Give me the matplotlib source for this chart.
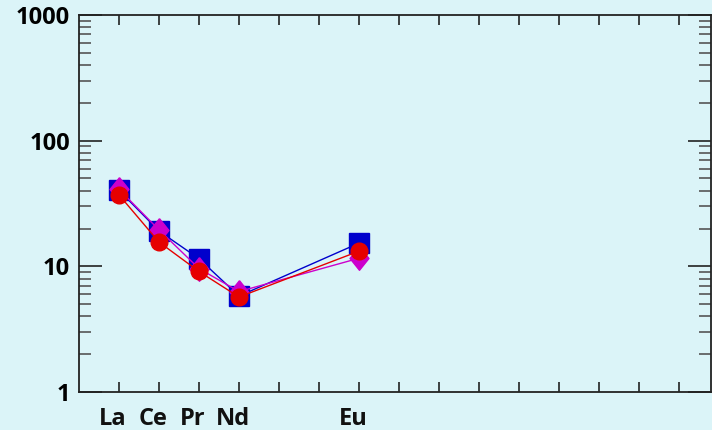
import numpy as np
import matplotlib
matplotlib.use("Agg")
from matplotlib import pyplot as plt
from matplotlib import transforms

# REE order (chondrite normalised spider diagram)
elements = ["La", "Ce", "Pr", "Nd", "Pm", "Sm", "Eu", "Gd", "Tb", "Dy", "Ho", "Er", "Tm", "Yb", "Lu"]
labelled = ["La", "Ce", "Pr", "Nd", "Eu"]

# sample values, same element order as labelled
blue_vals = [40.2, 19.1, 11.5, 5.8, 15.3]
magenta_vals = [41.0, 19.5, 9.6, 6.3, 11.6]
red_vals = [37.0, 15.6, 9.1, 5.7, 13.2]

bg = "#DBF4F8"
font = "Open Sans"

fig = plt.figure(figsize=(7.12, 4.30), dpi=100, facecolor=bg)
ax = fig.add_axes([79 / 712, 38 / 430, 632 / 712, 377 / 430])
ax.set_facecolor(bg)

xpos = [elements.index(e) + 1 for e in labelled]

# diamond a bit narrower than tall
diamond = [(0, 1), (0.8, 0), (0, -1), (-0.8, 0), (0, 1)]

ax.plot(xpos, blue_vals, color="#0000CC", lw=1, marker="s", ms=14,
        mec="#0000CC", mfc="#0000CC", zorder=3)
ax.plot(xpos, magenta_vals, color="#CC00CC", lw=1, marker=diamond, ms=17,
        mec="#CC00CC", mfc="#CC00CC", zorder=4)
ax.plot(xpos, red_vals, color="#E60000", lw=1, marker="o", ms=12,
        mec="#E60000", mfc="#E60000", zorder=5)

ax.set_yscale("log")
ax.set_ylim(1, 1000)
ax.set_xlim(0, 15.8)

for s in ax.spines.values():
    s.set_linewidth(1.3)
    s.set_color("#222222")

ax.set_xticks(range(1, len(elements) + 1))
ax.set_xticklabels([])
ax.tick_params(axis="x", which="major", direction="in", length=7, width=1.2,
               top=True, bottom=True, color="#222222")
ax.tick_params(axis="y", which="major", direction="in", length=16.5, width=1.2,
               left=True, right=True, pad=6.5, color="#222222")
ax.tick_params(axis="y", which="minor", direction="in", length=8.5, width=1.2,
               left=True, right=True, color="#555555")
ax.set_yticks([1, 10, 100, 1000])
ax.set_yticklabels(["1", "10", "100", "1000"])
for lab in ax.get_yticklabels():
    lab.set_fontfamily(font)
    lab.set_fontweight("bold")
    lab.set_fontsize(17)

# element names under the axis, shifted a touch left like the original
off = transforms.ScaledTranslation(-0.06, -0.33, fig.dpi_scale_trans)
for name, x in zip(labelled, xpos):
    ax.text(x, 0, name, transform=ax.get_xaxis_transform() + off,
            ha="center", va="baseline", fontsize=17, fontweight="bold",
            fontfamily=font, color="#111111")

fig.savefig("out.png", dpi=100, facecolor=bg)
